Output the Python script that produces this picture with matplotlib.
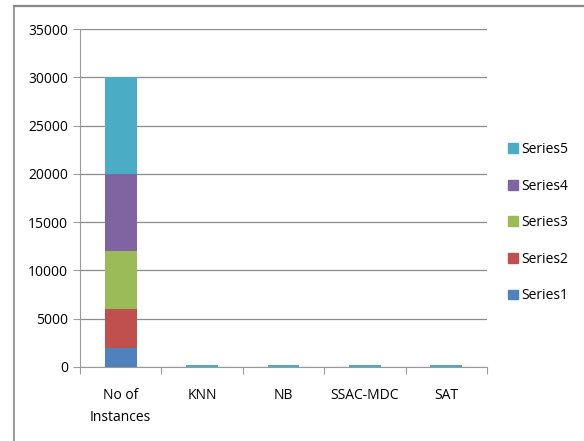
import matplotlib.pyplot as plt
import numpy as np
from matplotlib.lines import Line2D
from matplotlib.patches import Patch

plt.rcParams["font.family"] = ["Open Sans", "DejaVu Sans"]

categories = ["No of\nInstances", "KNN", "NB", "SSAC-MDC", "SAT"]
series_names = ["Series1", "Series2", "Series3", "Series4", "Series5"]
series1 = [2000, 5, 5, 5, 5]
series2 = [4000, 5, 5, 5, 5]
series3 = [6000, 5, 5, 5, 5]
series4 = [8000, 5, 5, 5, 5]
series5 = [10000, 150, 150, 150, 150]
colors = ["#4f81bd", "#c0504d", "#9bbb59", "#8064a2", "#4bacc6"]

fig = plt.figure(figsize=(5.84, 4.41), dpi=100)
ax = fig.add_axes([0.137, 0.168, 0.697, 0.766])

# outer chart frame (left and top edges only)
fig.add_artist(Line2D([14 / 584, 14 / 584], [0, 1 - 5.5 / 441], color="#888888", lw=1.2))
fig.add_artist(Line2D([14 / 584, 1], [1 - 5.5 / 441, 1 - 5.5 / 441], color="#888888", lw=1.6))

x = np.arange(len(categories))
bottom = np.zeros(len(categories))
for name, vals, c in zip(series_names, [series1, series2, series3, series4, series5], colors):
    ax.bar(x, vals, width=0.39, bottom=bottom, color=c, label=name, zorder=3)
    bottom += np.array(vals)

ax.set_xlim(-0.5, len(categories) - 0.5)
ax.set_ylim(0, 35000)
ax.set_yticks(np.arange(0, 35001, 5000))
ax.yaxis.grid(True, color="#8c8c8c", lw=0.9)
ax.set_axisbelow(True)

for s in ["top", "right"]:
    ax.spines[s].set_visible(False)
ax.spines["left"].set_color("#9a9a9a")
ax.spines["bottom"].set_color("#9a9a9a")

ax.set_xticks(np.arange(-0.5, len(categories), 1.0), minor=False)
ax.set_xticklabels([])
ax.tick_params(axis="x", length=5, color="#9a9a9a")
ax.set_xticks(x, minor=True)
ax.set_xticklabels(categories, minor=True, linespacing=1.7)
ax.tick_params(axis="x", which="minor", length=0, pad=15, labelsize=10)
ax.tick_params(axis="y", length=5, color="#9a9a9a", labelsize=10, direction="out")

handles = [Patch(color=c) for c in colors][::-1]
fig.legend(handles, series_names[::-1], loc="center left",
           bbox_to_anchor=(0.86, 0.495), frameon=False, fontsize=10,
           handlelength=0.7, handleheight=0.7, handletextpad=0.3,
           labelspacing=1.55, borderaxespad=0)

fig.savefig("out.png", dpi=100)
